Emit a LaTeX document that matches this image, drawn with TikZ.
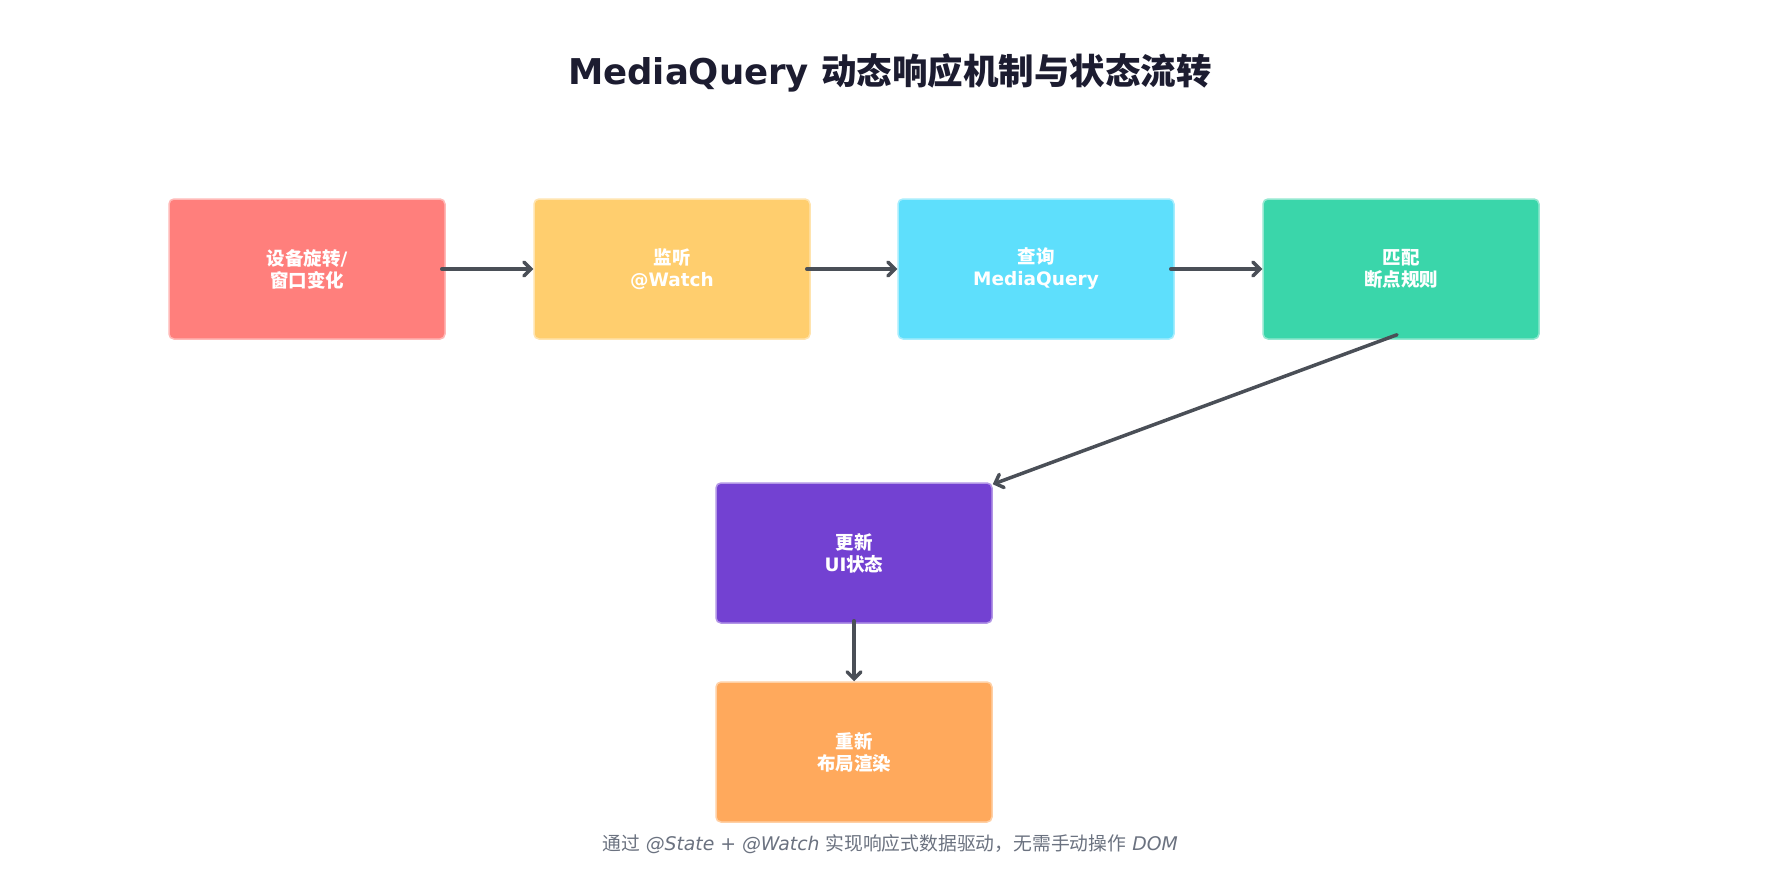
\documentclass[tikz,border=0pt]{standalone}
\usepackage{fontspec}
\setmainfont{DejaVu Sans}
\newfontfamily\cjk{Noto Sans CJK SC}
\usetikzlibrary{arrows.meta}
\definecolor{cred}{HTML}{FF7F7C}
\definecolor{cyel}{HTML}{FFCE6E}
\definecolor{ccya}{HTML}{5EDFFC}
\definecolor{cgrn}{HTML}{3AD6AA}
\definecolor{cpur}{HTML}{7341D2}
\definecolor{cora}{HTML}{FFA95C}
\definecolor{carr}{HTML}{4A4F57}
\definecolor{ctitle}{HTML}{1C1C30}
\definecolor{cfoot}{HTML}{6B7280}
\tikzset{
  stepbox/.style={rectangle, rounded corners=5pt, minimum width=276pt, minimum height=140pt,
    line width=1.5pt, text=white, align=center,
    font=\fontsize{18.5}{22}\selectfont\bfseries},
  arr/.style={draw=carr, line width=3.5pt, line cap=round,
    -{Straight Barb[length=7pt,width=14pt,line cap=round]}},
}
\begin{document}
\begin{tikzpicture}[x=1pt,y=-1pt]
\useasboundingbox[fill=white] (0,0) rectangle (1780,880);
\node[anchor=base, text=ctitle, font=\fontsize{35.5}{40}\selectfont\bfseries] (title) at (890,85)
  {MediaQuery {\cjk 动态响应机制与状态流转}};
\node[stepbox, fill=cred, draw=cred!55!white] (b1) at (307,269) {{\cjk 设备旋转}/\\{\cjk 窗口变化}};
\node[stepbox, fill=cyel, draw=cyel!55!white] (b2) at (672,269) {{\cjk 监听}\\@Watch};
\node[stepbox, fill=ccya, draw=ccya!55!white] (b3) at (1036,269) {{\cjk 查询}\\MediaQuery};
\node[stepbox, fill=cgrn, draw=cgrn!55!white] (b4) at (1401,269) {{\cjk 匹配}\\{\cjk 断点规则}};
\node[stepbox, fill=cpur, draw=cpur!55!white] (b5) at (854,553) {{\cjk 更新}\\UI{\cjk 状态}};
\node[stepbox, fill=cora, draw=cora!55!white] (b6) at (854,752) {{\cjk 重新}\\{\cjk 布局渲染}};
\draw[arr] ([xshift=-4pt]b1.east) -- (b2.west);
\draw[arr] ([xshift=-4pt]b2.east) -- (b3.west);
\draw[arr] ([xshift=-4pt]b3.east) -- (b4.west);
\draw[arr] ([xshift=-4pt,yshift=5pt]b4.south) -- ([yshift=-2pt]b5.north east);
\draw[arr] ([yshift=3pt]b5.south) -- (b6.north);
\node[anchor=base, text=cfoot, font=\fontsize{18.8}{22}\selectfont] (foot) at (890,850)
  {{\cjk 通过} \textit{@State + @Watch} {\cjk 实现响应式数据驱动，无需手动操作} \textit{DOM}};
\end{tikzpicture}
\end{document}
